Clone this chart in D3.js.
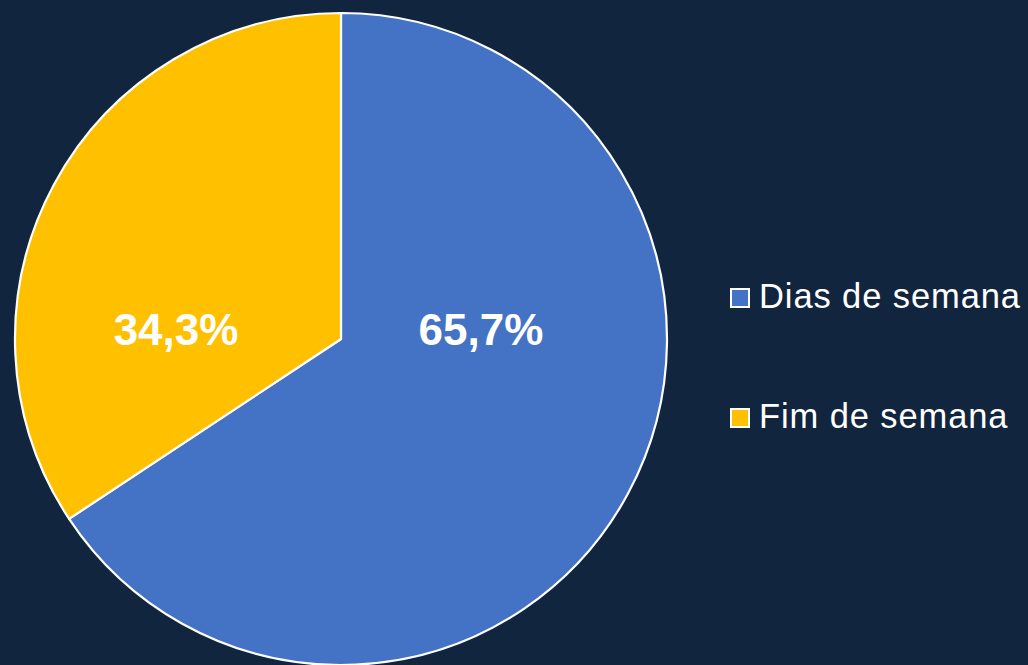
<!DOCTYPE html>
<html><head><meta charset="utf-8">
<script src="https://cdn.jsdelivr.net/npm/d3@7/dist/d3.min.js"></script>
<style>html,body{margin:0;padding:0;background:#12253F;}svg{display:block;}</style>
</head><body>
<script>
const categories = ["Dias de semana", "Fim de semana"];
const values = [65.7, 34.3];
const labels = ["65,7%", "34,3%"];
const colors = ["#4472C4", "#FFC000"];

const W = 1028, H = 665;
const svg = d3.select("body").append("svg").attr("width", W).attr("height", H);
svg.append("rect").attr("width", W).attr("height", H).attr("fill", "#12253F");

const cx = 341, cy = 339, R = 326;
const pie = d3.pie().sort(null).value(d => d)(values);
const arc = d3.arc().innerRadius(0).outerRadius(R);
const g = svg.append("g").attr("transform", `translate(${cx},${cy})`);
g.selectAll("path").data(pie).join("path")
  .attr("d", arc).attr("fill", (d, i) => colors[i])
  .attr("stroke", "#fff").attr("stroke-width", 2.2).attr("stroke-linejoin", "round");

// label placement: horizontal offset toward each slice side, same height
const labelDx = [140, -165];
g.selectAll("text").data(pie).join("text")
  .attr("x", (d, i) => labelDx[i])
  .attr("y", -10)
  .attr("text-anchor", "middle").attr("dy", "0.36em")
  .attr("fill", "#fff").attr("font-family", "Liberation Sans, Arial, sans-serif")
  .attr("font-weight", "bold").attr("font-size", 44)
  .text((d, i) => labels[i]);

const legY = d3.scalePoint().domain(categories).range([298, 418]);
const leg = svg.append("g");
categories.forEach((c, i) => {
  const y = legY(c);
  leg.append("rect").attr("x", 731).attr("y", y - 9).attr("width", 18).attr("height", 18)
    .attr("fill", colors[i]).attr("stroke", "#fff").attr("stroke-width", 2);
  leg.append("text").attr("x", 759).attr("y", y + 9.5)
    .attr("fill", "#fff").attr("font-family", "Liberation Sans, Arial, sans-serif")
    .attr("font-size", 34.5).attr("letter-spacing", 0.9).text(c);
});
</script>
</body></html>
